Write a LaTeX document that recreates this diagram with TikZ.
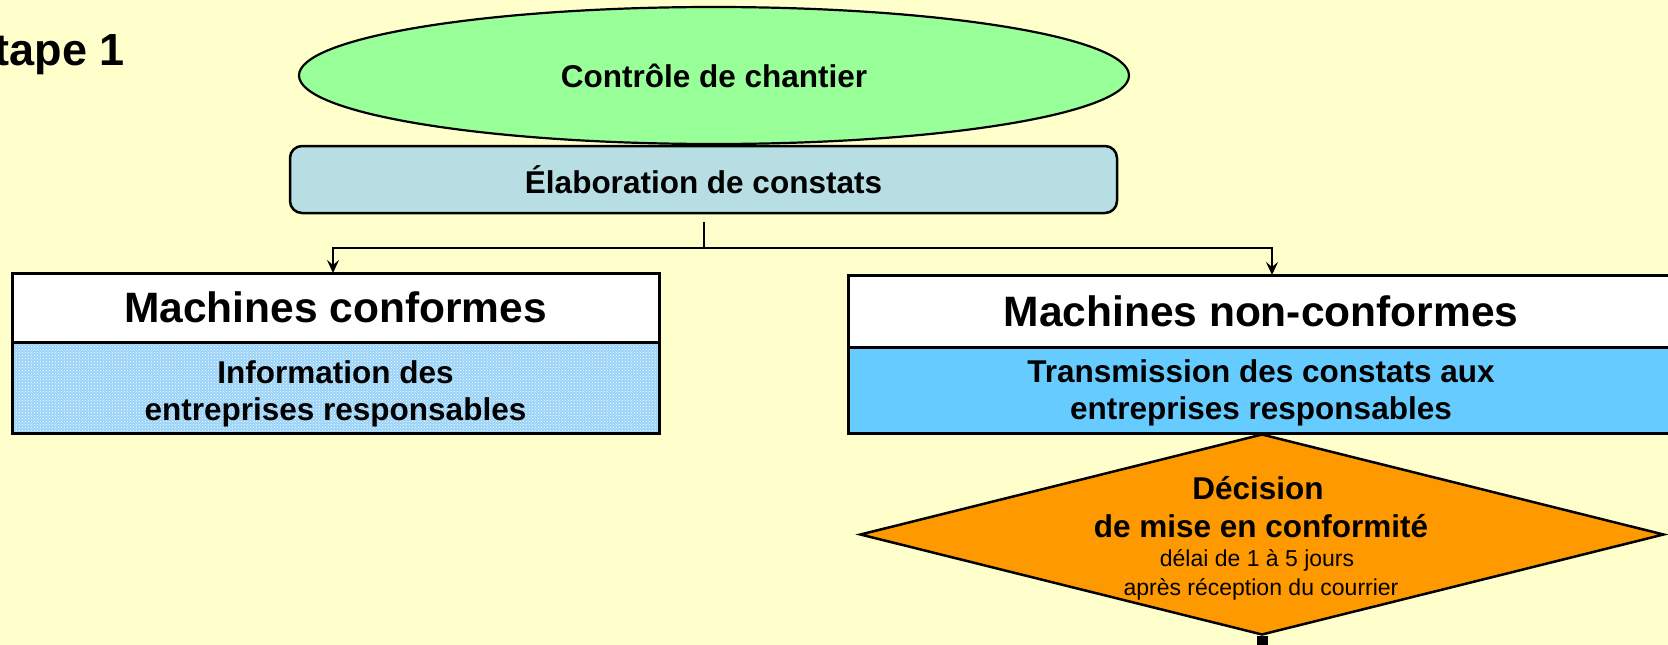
\documentclass[tikz,border=0pt]{standalone}
\usepackage{fontspec}
\setmainfont{Liberation Sans}
\usetikzlibrary{shapes.geometric,arrows.meta,patterns,calc}
\definecolor{bgyellow}{HTML}{FFFFCC}
\definecolor{ellgreen}{HTML}{99FF99}
\definecolor{elabblue}{HTML}{B7DFE3}
\definecolor{skyblue}{HTML}{66CCFF}
\definecolor{patblue}{HTML}{9AD3F8}
\definecolor{decorange}{HTML}{FF9900}
\begin{document}
\begin{tikzpicture}[x=1pt,y=-1pt,
  bigtxt/.style={font=\bfseries\fontsize{42.5}{48}\selectfont},
  midtxt/.style={font=\bfseries\fontsize{31.5}{36.5}\selectfont},
  smalltxt/.style={font=\fontsize{23}{28}\selectfont},
  headbox/.style={draw, line width=3, fill=white, inner sep=0, minimum height=69},
  subbox/.style={draw, line width=3, inner sep=0},
  conn/.style={line width=2.5},
  arr/.style={line width=2.5, -{Stealth[length=13,width=12,inset=5]}}
]
\useasboundingbox (0,0) rectangle (1668,645);
\fill[bgyellow] (0,0) rectangle (1668,645);

% title
\node[anchor=base east, inner sep=0, font=\bfseries\fontsize{45}{52}\selectfont] (title) at (125,65) {tape 1};

% top ellipse
\node[ellipse, draw, line width=2.2, fill=ellgreen, minimum width=830, minimum height=137, inner sep=0, midtxt] (ctrl) at (714,75.5) {Contrôle de chantier};

% elaboration
\node[draw, line width=2.5, fill=elabblue, rounded corners=12, minimum width=827, minimum height=67, inner sep=0, midtxt] (elab) at (703.5,179.5) {Élaboration de constats};

% left boxes
\node[headbox, minimum width=647, bigtxt] (mc) at (335.5,307.5) {Machines conformes};
\node[subbox, minimum width=647, minimum height=91,
      preaction={fill=patblue}, pattern=crosshatch dots, pattern color=white] (info) at (335.5,387.5) {};
\node[midtxt, align=center, inner sep=0] (infotxt) at (335.5,394) {Information des\\entreprises responsables};

% right boxes
\node[headbox, minimum width=826, minimum height=72, bigtxt] (mnc) at (1261,311) {Machines non-conformes};
\node[subbox, minimum width=826, minimum height=86, fill=skyblue] (trans) at (1261,390) {};
\node[midtxt, align=center, inner sep=0] (transtxt) at (1261,393) {Transmission des constats aux\\entreprises responsables};

% decision diamond
\node[diamond, draw, line width=2.5, fill=decorange, minimum width=804, minimum height=201, inner sep=0] (dec) at (1262,534.5) {};
\node[anchor=base, inner sep=0, midtxt] (d1) at (1258,499) {Décision};
\node[anchor=base, inner sep=0, midtxt] (d2) at (1261,537) {de mise en conformité};
\node[anchor=base, inner sep=0, smalltxt] (d3) at (1257,566) {délai de 1 à 5 jours};
\node[anchor=base, inner sep=0, smalltxt] (d4) at (1261,595) {après réception du courrier};

% connectors
\coordinate (stem) at (704,222);
\coordinate (split) at (704,248);
\coordinate (lefttip) at (333,273);
\coordinate (righttip) at (1272,275);
\coordinate (bottomend) at (1262,650);
\draw[conn] (stem) -- (split);
\draw[arr] (split) -| (lefttip);
\draw[arr] (split) -| (righttip);
\draw[line width=11] (dec.south) -- (bottomend);
\end{tikzpicture}
\end{document}
